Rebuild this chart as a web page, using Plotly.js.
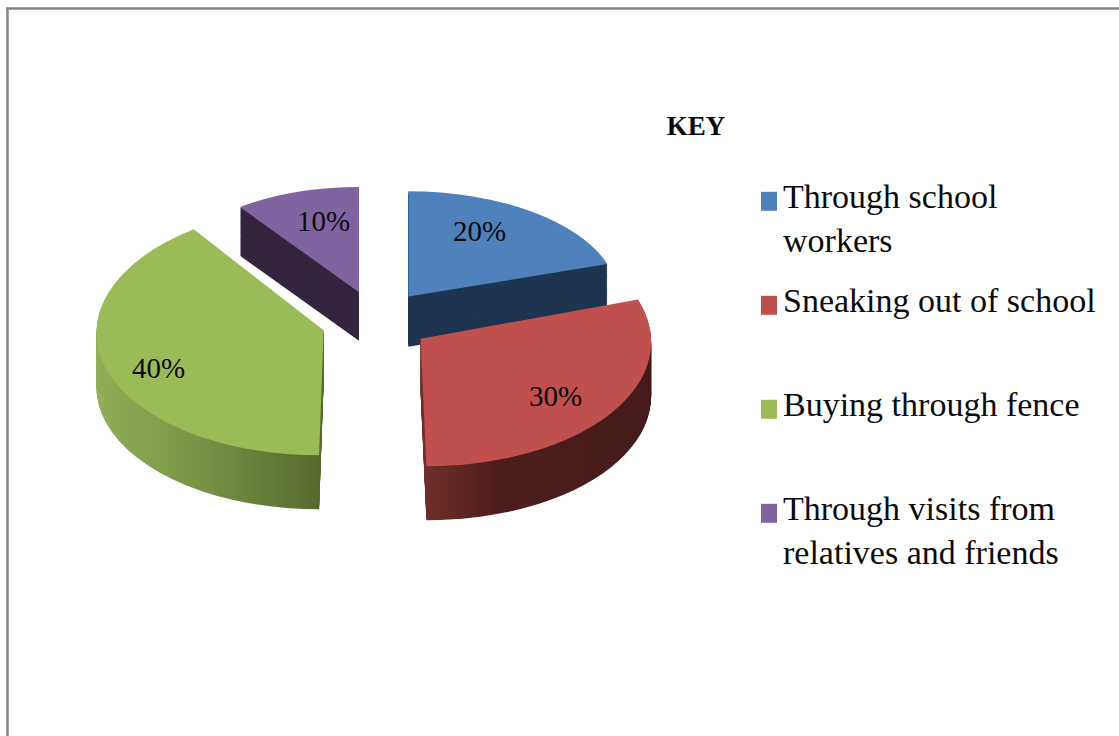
<!DOCTYPE html>
<html><head><meta charset="utf-8">
<script src="https://cdn.plot.ly/plotly-3.0.1.min.js"></script>
<style>html,body{margin:0;padding:0;background:#fff}#c{width:1119px;height:736px}</style>
</head><body><div id="c"></div>
<script>
const categories = ["Through school<br>workers<br> ", "Sneaking out of school<br> <br> ", "Buying through fence<br> <br> ", "Through visits from<br>relatives and friends<br> "];
const values = [20, 30, 40, 10];
const topColors = ["#4f81bd", "#c0504d", "#9bbb59", "#8064a2"];
const wallColors = ["#1f3551", "#4e1e1d", "#6f8a3c", "#35263f"];

const W = 1119, H = 736;
const squash = 0.55, cx = 376, cy = 321, size = 560, depth = 54, topU = 300, pull = 0.245;
// perspective: back slices are drawn smaller than front slices
const persp = [{sx:.93,sy:.85,kx:0,kd:.93},{sx:1.025,sy:1.03,kx:.026,kd:1},{sx:1.01,sy:1.01,kx:-.02,kd:1},{sx:.9,sy:.85,kx:0,kd:.9}];
const labelAt = [[479,231],[555,396],[158,368],[323,221]];

function dom(u){ return {x:[(cx-size/2)/W,(cx+size/2)/W], y:[1-(u+size/2)/H,1-(u-size/2)/H]}; }
const base = {type:'pie', labels:categories, values:values, sort:false, direction:'clockwise', rotation:0, pull:pull, hoverinfo:'label+percent', textinfo:'none'};
const traces = [], layerDepth = [];
for(let d=depth; d>=0; d-=1){
  layerDepth.push(d);
  traces.push(Object.assign({},base,{domain:dom(topU+d/squash), showlegend:d===0, marker:{colors:d===0?topColors:wallColors,line:{width:0}}}));
}
const total = values.reduce((a,b)=>a+b,0);
const annotations = values.map(function(v,i){
  return {xref:'paper',yref:'paper',x:labelAt[i][0]/W,y:1-labelAt[i][1]/H,xanchor:'center',yanchor:'middle',showarrow:false,
    text:Math.round(v/total*100)+'%',font:{family:'Liberation Serif',size:29,color:'#0a0a0a'}};
});
const layout = {width:W,height:H,margin:{l:0,r:0,t:0,b:0},paper_bgcolor:'#fff',showlegend:true,annotations:annotations,
  title:{text:'<b>KEY</b>',x:696/W,xanchor:'center',y:1-126/H,yanchor:'middle',font:{family:'Liberation Serif',size:27,color:'#0a0a0a'}},
  legend:{x:743/W,y:1-172/H,xanchor:'left',yanchor:'top',valign:'top',font:{family:'Liberation Serif',size:34,color:'#0a0a0a'},bgcolor:'rgba(0,0,0,0)',itemclick:false,itemdoubleclick:false},
  shapes:[
    {type:'line',xref:'paper',yref:'paper',x0:6/W,x1:1,y0:1-8.5/H,y1:1-8.5/H,line:{color:'#858585',width:2.5}},
    {type:'line',xref:'paper',yref:'paper',x0:7.5/W,x1:7.5/W,y0:0,y1:1-8.5/H,line:{color:'#858585',width:2.5}}
  ]};
Plotly.newPlot('c',traces,layout,{displayModeBar:false,staticPlot:true}).then(function(gd){
  const svg = gd.querySelector('.main-svg');
  const NS='http://www.w3.org/2000/svg';
  const defs = svg.querySelector('defs') || svg.insertBefore(document.createElementNS(NS,'defs'),svg.firstChild);
  function grad(id,stops){
    const g=document.createElementNS(NS,'linearGradient');
    g.setAttribute('id',id);g.setAttribute('x1','0');g.setAttribute('x2','1');g.setAttribute('y1','0');g.setAttribute('y2','0');
    stops.forEach(function(s){const t=document.createElementNS(NS,'stop');t.setAttribute('offset',s[0]);t.setAttribute('stop-color',s[1]);g.appendChild(t);});
    defs.appendChild(g);
  }
  grad('wallGreen',[[0,'#93ae57'],[.45,'#7a9447'],[1,'#566a2e']]);
  grad('wallRed',[[0,'#6e2d2a'],[.3,'#4e1e1d'],[1,'#451a1a']]);
  const wallFill=[null,'url(#wallRed)','url(#wallGreen)',null];

  const layer = gd.querySelector('.pielayer');
  layer.setAttribute('transform','translate(0,'+(cy-squash*topU)+') scale(1,'+squash+')');
  const r = size/(2*(1+pull));
  layer.querySelectorAll('.trace').forEach(function(tr,ti){
    const d = layerDepth[ti], u = topU+d/squash;
    let cum = 0;
    tr.querySelectorAll('.slice').forEach(function(sl,i){
      const mid = (cum+values[i]/2)/total*2*Math.PI; cum += values[i];
      const ax = cx+pull*r*Math.sin(mid), ay = u-pull*r*Math.cos(mid), p = persp[i];
      const dy = (p.kd-1)*d/squash;
      sl.setAttribute('transform','translate('+ax+','+(ay+dy)+') matrix('+p.sx+',0,'+p.kx+','+p.sy+',0,0) translate('+(-ax)+','+(-ay)+')');
      if(d>0 && wallFill[i]) sl.querySelector('path').style.fill = wallFill[i];
    });
  });
  // legend: row pitch and key squares
  gd.querySelectorAll('.legend .traces').forEach(function(t,i){
    const y0 = 67;
    t.setAttribute('transform','translate(0,'+(y0+104*i)+')');
    const path = t.querySelector('.legendpoints path');
    path.setAttribute('d','M-8,-9.5H8V9.5H-8Z');
    path.setAttribute('transform','translate(26,6.5)');
  });
});
</script></body></html>
